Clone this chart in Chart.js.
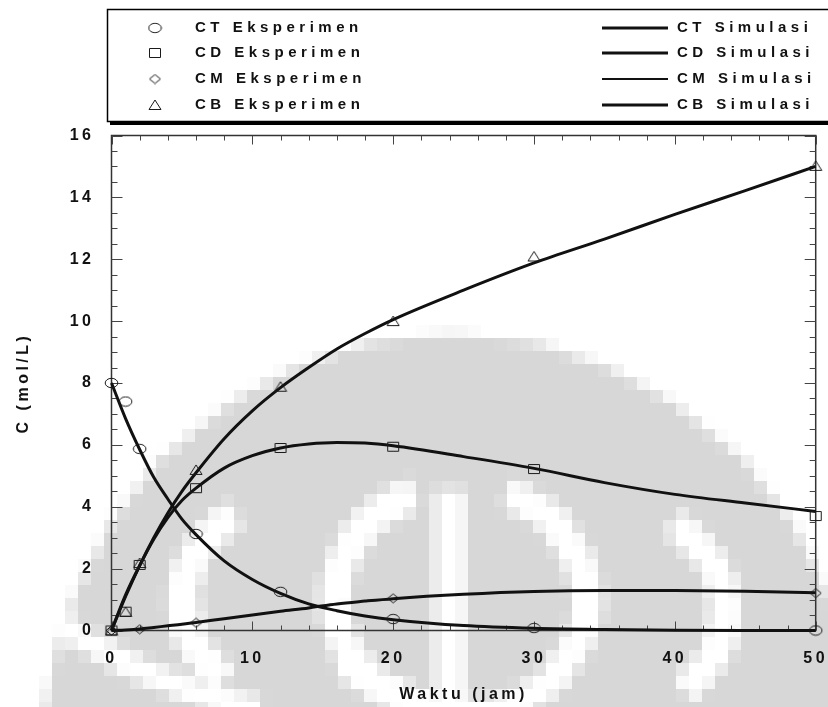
<!DOCTYPE html>
<html>
<head>
<meta charset="utf-8">
<script src="https://cdn.jsdelivr.net/npm/chart.js@4.4.1/dist/chart.umd.min.js"></script>
<style>
  html, body { margin: 0; padding: 0; background: #fff; }
  canvas { display: block; }
</style>
</head>
<body>
<canvas id="kinetika" width="828" height="707"></canvas>
<script>
// titik eksperimen, waktu dalam jam
const tExp = [0, 1, 2, 6, 12, 20, 30, 50];
const ctExp = [8.0, 7.4, 5.87, 3.12, 1.25, 0.37, 0.08, 0.0];
const cdExp = [0.0, 0.61, 2.12, 4.6, 5.9, 5.94, 5.22, 3.7];
const cmExp = [0.0, null, 0.04, 0.25, null, 1.04, null, 1.21];
const cbExp = [0.0, 0.6, 2.18, 5.19, 7.88, 10.0, 12.09, 15.02];

// kurva hasil simulasi model
const tSim = [0, 1, 2, 3, 4, 5, 6, 8, 10, 12, 14, 16, 18, 20, 25, 30, 35, 40, 45, 50];
const ctSim = [8.0, 6.85, 5.85, 4.95, 4.25, 3.6, 3.1, 2.25, 1.65, 1.2, 0.86, 0.64, 0.47, 0.35, 0.16, 0.07, 0.03, 0.01, 0.0, 0.0];
const cdSim = [0.0, 1.15, 2.1, 2.95, 3.65, 4.2, 4.6, 5.25, 5.65, 5.9, 6.03, 6.08, 6.06, 5.97, 5.62, 5.24, 4.78, 4.4, 4.12, 3.85];
const cmSim = [0.0, 0.02, 0.05, 0.1, 0.15, 0.2, 0.26, 0.38, 0.5, 0.62, 0.73, 0.86, 0.95, 1.03, 1.17, 1.26, 1.29, 1.29, 1.27, 1.22];
const cbSim = [0.0, 1.1, 2.1, 3.0, 3.8, 4.5, 5.1, 6.2, 7.1, 7.85, 8.5, 9.1, 9.6, 10.05, 11.0, 11.88, 12.65, 13.45, 14.22, 15.0];

const expNames = ['CT Eksperimen', 'CD Eksperimen', 'CM Eksperimen', 'CB Eksperimen'];
const simNames = ['CT Simulasi', 'CD Simulasi', 'CM Simulasi', 'CB Simulasi'];
const xTickValues = [0, 10, 20, 30, 40, 50];
const yTickValues = [0, 2, 4, 6, 8, 10, 12, 14, 16];

const FONT = '"Liberation Sans", Arial, sans-serif';
const INK = '#111';

// simbol titik berongga, sedikit melebar ke samping
function markerCanvas(w, h, path) {
  const c = document.createElement('canvas');
  c.width = w; c.height = h;
  const g = c.getContext('2d');
  g.strokeStyle = '#1a1a1a';
  g.lineWidth = 1;
  g.beginPath(); path(g); g.closePath(); g.stroke();
  return c;
}
const markers = [
  markerCanvas(15, 12, g => g.ellipse(7.5, 6, 6.3, 4.7, 0, 0, Math.PI * 2)),
  markerCanvas(14, 12, g => g.rect(1.5, 1.5, 11, 9)),
  markerCanvas(13, 11, g => { g.moveTo(6.5, 1); g.lineTo(12, 5.5); g.lineTo(6.5, 10); g.lineTo(1, 5.5); }),
  markerCanvas(14, 12, g => { g.moveTo(7, 1); g.lineTo(13, 10.5); g.lineTo(1, 10.5); }),
];
const simWidths = [3, 3, 3, 3];
const legendWidths = [3, 3, 2, 3];

const expSeries = [ctExp, cdExp, cmExp, cbExp];
const simSeries = [ctSim, cdSim, cmSim, cbSim];

const datasets = [];
simSeries.forEach((vals, i) => {
  datasets.push({
    label: simNames[i],
    data: tSim.map((t, k) => ({ x: t, y: vals[k] })),
    showLine: true, borderColor: INK, borderWidth: simWidths[i],
    pointRadius: 0, cubicInterpolationMode: 'monotone', order: 2, clip: 4,
  });
});
expSeries.forEach((vals, i) => {
  datasets.push({
    label: expNames[i],
    data: tExp.map((t, k) => ({ x: t, y: vals[k] })).filter(p => p.y !== null),
    showLine: false, pointStyle: markers[i], pointRadius: 6, order: 1, clip: false,
  });
});

// logo samar di belakang area plot, digambar kasar lalu diperbesar
function drawLogo(ctx) {
  const k = 13;
  const small = document.createElement('canvas');
  small.width = Math.ceil(828 / k); small.height = Math.ceil(707 / k);
  const g = small.getContext('2d');
  g.scale(1 / k, 1 / k);
  g.fillStyle = '#fff';
  g.fillRect(0, 0, 828, 707);
  g.fillStyle = '#d7d7d7';
  g.beginPath(); g.ellipse(452, 760, 410, 425, 0, 0, Math.PI * 2); g.fill();
  g.strokeStyle = '#fff';
  g.lineWidth = 30;
  g.beginPath(); g.moveTo(450, 490); g.lineTo(450, 707); g.stroke();
  g.beginPath(); g.ellipse(461, 600, 126, 115, 0, -Math.PI * 0.38, Math.PI * 1.38); g.stroke();
  g.beginPath(); g.ellipse(454, 600, 272, 150, 0, Math.PI * 0.82, Math.PI * 1.2); g.stroke();
  g.beginPath(); g.ellipse(454, 610, 272, 150, 0, -Math.PI * 0.2, Math.PI * 0.18); g.stroke();
  g.lineWidth = 24;
  g.beginPath(); g.moveTo(60, 625); g.quadraticCurveTo(150, 690, 260, 712); g.stroke();
  g.beginPath(); g.moveTo(340, 665); g.lineTo(440, 712); g.stroke();
  ctx.save();
  ctx.imageSmoothingEnabled = false;
  ctx.drawImage(small, 0, 0, small.width * k, small.height * k);
  ctx.restore();
}

const backdrop = {
  id: 'backdrop',
  beforeUpdate(chart) { chart.ctx.letterSpacing = '3.5px'; },
  beforeDraw(chart) {
    drawLogo(chart.ctx);
    chart.ctx.letterSpacing = '3.5px';
  },
};

// bingkai penuh dengan tick ke dalam di keempat sisi
const frameTicks = {
  id: 'frameTicks',
  beforeDatasetsDraw(chart) {
    const { ctx, chartArea: a, scales: { x, y } } = chart;
    ctx.save();
    ctx.strokeStyle = '#333';
    ctx.lineWidth = 1.5;
    ctx.strokeRect(a.left, a.top, a.right - a.left, a.bottom - a.top);
    ctx.strokeStyle = '#444';
    ctx.lineWidth = 1;
    ctx.beginPath();
    for (let v = x.min; v <= x.max; v += 2) {
      const px = Math.round(x.getPixelForValue(v)) + 0.5;
      const len = v % 10 === 0 ? 9 : 5;
      ctx.moveTo(px, a.bottom); ctx.lineTo(px, a.bottom - len);
      ctx.moveTo(px, a.top); ctx.lineTo(px, a.top + len);
    }
    for (let v = y.min; v <= y.max; v += 0.5) {
      const py = Math.round(y.getPixelForValue(v)) + 0.5;
      const len = v % 2 === 0 ? 11 : 6;
      ctx.moveTo(a.left, py); ctx.lineTo(a.left + len, py);
      ctx.moveTo(a.right, py); ctx.lineTo(a.right - len, py);
    }
    ctx.stroke();
    ctx.restore();
  },
};

// kotak legenda di atas plot
const boxLegend = {
  id: 'boxLegend',
  afterDraw(chart) {
    const ctx = chart.ctx;
    const rows = [28, 53, 79, 105];
    ctx.save();
    ctx.fillStyle = '#fff';
    ctx.fillRect(107, 9, 740, 113);
    ctx.fillStyle = '#000';
    ctx.fillRect(110, 121, 740, 4);
    ctx.strokeStyle = '#000';
    ctx.lineWidth = 1.5;
    ctx.strokeRect(107.5, 9.5, 740, 112);
    ctx.font = 'bold 15px ' + FONT;
    ctx.letterSpacing = '4.5px';
    ctx.textBaseline = 'middle';
    ctx.fillStyle = INK;
    rows.forEach((ry, i) => {
      const m = markers[i];
      ctx.drawImage(m, 155 - m.width / 2, ry - m.height / 2);
      ctx.fillText(expNames[i], 195, ry);
      ctx.beginPath();
      ctx.lineWidth = legendWidths[i];
      ctx.strokeStyle = INK;
      ctx.moveTo(602, ry); ctx.lineTo(668, ry);
      ctx.stroke();
      ctx.fillText(simNames[i], 677, ry);
    });
    ctx.restore();
  },
};

const tickFont = { family: FONT, size: 16, weight: 'bold' };

new Chart(document.getElementById('kinetika'), {
  type: 'scatter',
  data: { datasets },
  options: {
    responsive: false,
    animation: false,
    layout: { padding: { left: 0, right: 12.3, top: 135.5, bottom: 0 } },
    plugins: { legend: { display: false }, tooltip: { enabled: false } },
    scales: {
      x: {
        type: 'linear', min: 0, max: 50,
        grid: { display: false, drawTicks: false },
        border: { display: false },
        afterBuildTicks: s => { s.ticks = xTickValues.map(v => ({ value: v })); },
        afterFit: s => { s.height = 76.5; s.paddingLeft = 0; s.paddingRight = 0; },
        ticks: { color: INK, font: tickFont, padding: 18, maxRotation: 0, autoSkip: false },
        title: { display: true, text: 'Waktu (jam)', color: INK, font: tickFont, padding: { top: 0, bottom: 3 } },
      },
      y: {
        type: 'linear', min: 0, max: 16,
        grid: { display: false, drawTicks: false },
        border: { display: false },
        afterBuildTicks: s => { s.ticks = yTickValues.map(v => ({ value: v })); },
        afterFit: s => { s.width = 111.5; s.paddingTop = 0; s.paddingBottom = 0; },
        ticks: { color: INK, font: tickFont, padding: 17, autoSkip: false },
        title: { display: true, text: 'C (mol/L)', color: INK, font: tickFont, padding: { top: 14, bottom: 0 } },
      },
    },
  },
  plugins: [backdrop, frameTicks, boxLegend],
});
</script>
</body>
</html>
